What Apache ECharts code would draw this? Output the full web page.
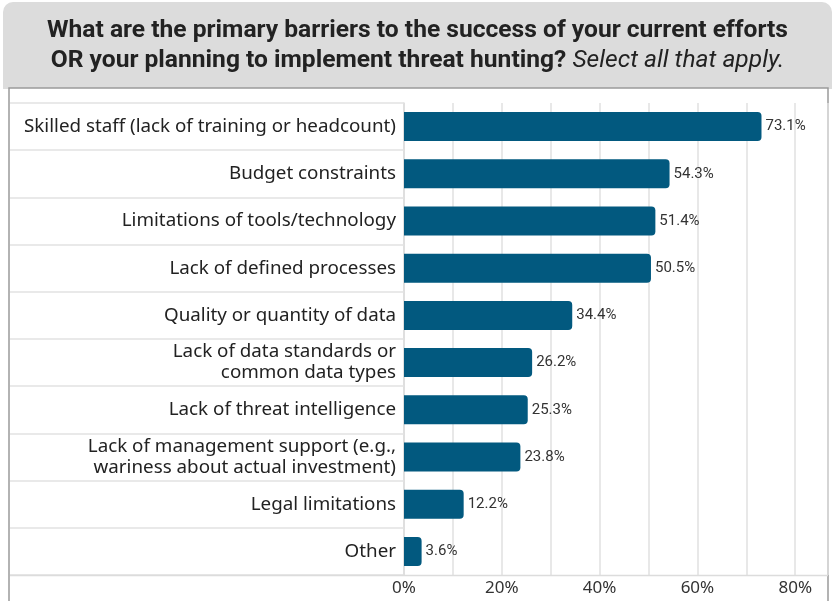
<!DOCTYPE html>
<html><head><meta charset="utf-8">
<script src="https://cdn.jsdelivr.net/npm/echarts@6/dist/echarts.min.js"></script>
<style>html,body{margin:0;padding:0;background:#fff}#c{width:835px;height:601px}</style>
</head><body><div id="c"></div>
<script>
const categories = [
  "Skilled staff (lack of training or headcount)",
  "Budget constraints",
  "Limitations of tools/technology",
  "Lack of defined processes",
  "Quality or quantity of data",
  "Lack of data standards or\ncommon data types",
  "Lack of threat intelligence",
  "Lack of management support (e.g.,\nwariness about actual investment)",
  "Legal limitations",
  "Other"
];
const values = [73.1, 54.3, 51.4, 50.5, 34.4, 26.2, 25.3, 23.8, 12.2, 3.6];
const tickLabels = [0, 20, 40, 60, 80];

const chart = echarts.init(document.getElementById('c'), null, {renderer: 'canvas'});
chart.setOption({
  animation: false,
  title: {
    left: 'center', top: 11,
    text: '{b|What are the primary barriers to the success of your current efforts}\n{b|OR your planning to implement threat hunting? }{i|Select all that apply.}',
    textStyle: {
      rich: {
        b: {fontFamily: 'Roboto', fontWeight: 'bold', fontSize: 24.6, color: '#222', lineHeight: 30},
        i: {fontFamily: 'Roboto', fontWeight: 'normal', fontStyle: 'italic', fontSize: 24.6, color: '#222', lineHeight: 30}
      }
    }
  },
  graphic: [
    {type: 'rect', z: -10, shape: {x: 3, y: 2, width: 829, height: 87, r: [10, 10, 0, 0]}, style: {fill: '#dcdcdc'}},
    {type: 'rect', z: -9, shape: {x: 9, y: 88, width: 819, height: 520}, style: {fill: '#fff', stroke: '#9a9a9a', lineWidth: 1.5}},
    {type: 'line', z: 5, shape: {x1: 10, y1: 575.5, x2: 828, y2: 575.5}, style: {stroke: '#dcdcdc', lineWidth: 1.5}}
  ],
  grid: {left: 404, right: 7, top: 103, bottom: 26, containLabel: false},
  xAxis: {
    type: 'value', min: 0, max: 86.7, interval: 10,
    axisLine: {show: false}, axisTick: {show: false},
    splitLine: {show: true, lineStyle: {color: '#e0e0e0', width: 1.5}},
    axisLabel: {
      margin: 5, fontFamily: 'Noto Sans', fontSize: 17, color: '#333',
      formatter: v => tickLabels.indexOf(Math.round(v*10)/10) >= 0 ? v + '%' : ''
    }
  },
  yAxis: {
    type: 'category', data: categories, inverse: true,
    axisLine: {show: true, lineStyle: {color: '#dcdcdc', width: 1.5}},
    axisTick: {show: true, length: 394, lineStyle: {color: '#e2e2e2', width: 1.5}},
    axisLabel: {margin: 8, fontFamily: 'Noto Sans', fontSize: 18.8, color: '#222', lineHeight: 21, align: 'right'}
  },
  series: [{
    type: 'bar', data: values, barWidth: 29,
    itemStyle: {color: '#02597f', borderRadius: [0, 4, 4, 0]},
    label: {show: true, position: 'right', distance: 4, formatter: p => p.value.toFixed(1) + '%',
      fontFamily: 'Roboto', fontSize: 15, color: '#333'}
  }]
});
</script></body></html>
